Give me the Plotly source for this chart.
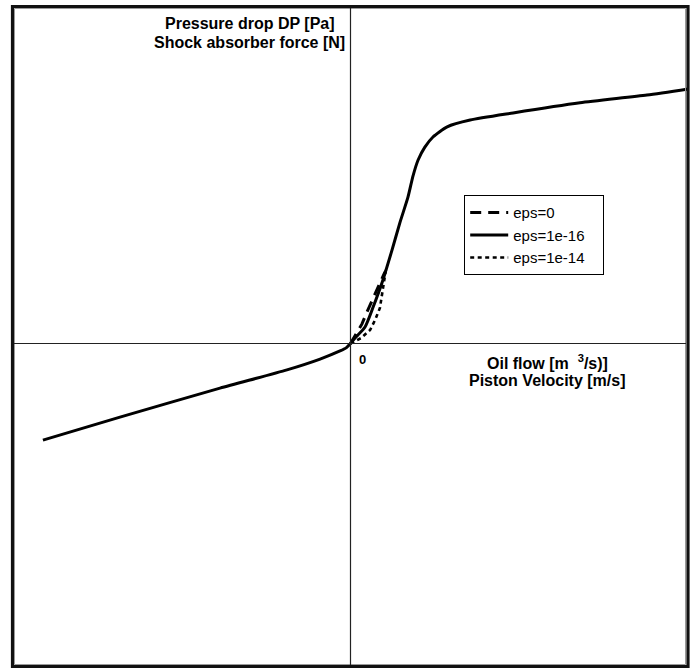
import plotly.graph_objects as go

# Piston velocity [m/s] and damper force [N] for the three eps settings
vel_eps16 = [-0.910, -0.682, -0.386, -0.188, -0.090, -0.031, -0.013, 0.0, 0.016, 0.043,
             0.067, 0.093, 0.123, 0.146, 0.170, 0.185, 0.200, 0.220, 0.244, 0.286,
             0.354, 0.481, 0.679, 0.877, 0.999]
force_eps16 = [-286, -218, -132, -78, -46, -22, -13, 0, 19, 49,
               108, 179, 277, 357, 433, 496, 543, 581, 611, 641,
               661, 682, 712, 735, 753]

vel_eps0 = [0.0, 0.016, 0.034, 0.046, 0.064, 0.073, 0.090, 0.102]
force_eps0 = [0, 28, 58, 87, 126, 149, 185, 212]

vel_eps14 = [0.0, 0.013, 0.031, 0.058, 0.073, 0.087, 0.093, 0.098, 0.102, 0.105]
force_eps14 = [0, 7, 16, 40, 70, 105, 144, 176, 206, 220]

series_names = ["eps=0", "eps=1e-16", "eps=1e-14"]

W, H = 696, 668
FONT = "Liberation Sans, Arial, Helvetica, sans-serif"
PAD = "&nbsp;" * 3  # right-hand padding inside the legend box


def px(x):
    return x / W


def py(y):
    return 1 - y / H


fig = go.Figure()
fig.add_trace(go.Scatter(x=vel_eps0, y=force_eps0, mode="lines", name=series_names[0] + PAD,
                         line=dict(color="black", width=3, dash="11px,7px")))
fig.add_trace(go.Scatter(x=vel_eps16, y=force_eps16, mode="lines", name=series_names[1] + PAD,
                         line=dict(color="black", width=3, shape="spline", smoothing=0.6)))
fig.add_trace(go.Scatter(x=vel_eps14, y=force_eps14, mode="lines", name=series_names[2] + PAD,
                         line=dict(color="black", width=2.6, dash="4px,3.5px")))

shapes = [
    # outer frame with a thin grey inner edge
    dict(type="rect", xref="paper", yref="paper", x0=px(12.5), x1=px(688), y0=py(666.5), y1=py(6.5),
         line=dict(color="#111111", width=3.2)),
    dict(type="rect", xref="paper", yref="paper", x0=px(14.5), x1=px(685.5), y0=py(664.5), y1=py(8.5),
         line=dict(color="#9a9a9a", width=1)),
    # coordinate axes through the origin
    dict(type="line", xref="x", yref="paper", x0=0, x1=0, y0=py(665), y1=py(8),
         line=dict(color="#222222", width=1.2)),
    dict(type="line", xref="paper", yref="y", x0=px(14), x1=px(686), y0=0, y1=0,
         line=dict(color="#222222", width=1.2)),
]

label_font = dict(family=FONT, size=16, color="black")


def label(text, cx, cy):
    return dict(xref="paper", yref="paper", x=px(cx), y=py(cy), xanchor="center",
                yanchor="middle", showarrow=False, text=f"<b>{text}</b>", font=label_font)


annotations = [
    label("Pressure drop DP [Pa]", 249.5, 24),
    label("Shock absorber force [N]", 249.5, 43),
    label("Oil flow [m  <sup>3</sup>/s)]", 547.5, 362),
    label("Piston Velocity [m/s]", 547, 380),
    dict(x=0, y=0, xref="x", yref="y", xanchor="center", yanchor="middle", showarrow=False,
         xshift=12, yshift=-16, text="<b>0</b>", font=dict(family=FONT, size=13, color="black")),
]

fig.update_layout(
    width=W, height=H,
    margin=dict(l=0, r=0, t=0, b=0),
    paper_bgcolor="white", plot_bgcolor="white",
    xaxis=dict(range=[-350.5 / 338, 345.5 / 338], visible=False, showgrid=False, zeroline=False),
    yaxis=dict(range=[(343.5 - 668) / 338 * 1000, 343.5 / 338 * 1000], visible=False,
               showgrid=False, zeroline=False),
    shapes=shapes,
    annotations=annotations,
    showlegend=True,
    legend=dict(x=px(464), y=py(195), xanchor="left", yanchor="top",
                bgcolor="white", bordercolor="black", borderwidth=1.2,
                font=dict(family=FONT, size=15, color="black"),
                itemwidth=38, tracegroupgap=0),
)

fig.write_html("out.html")
